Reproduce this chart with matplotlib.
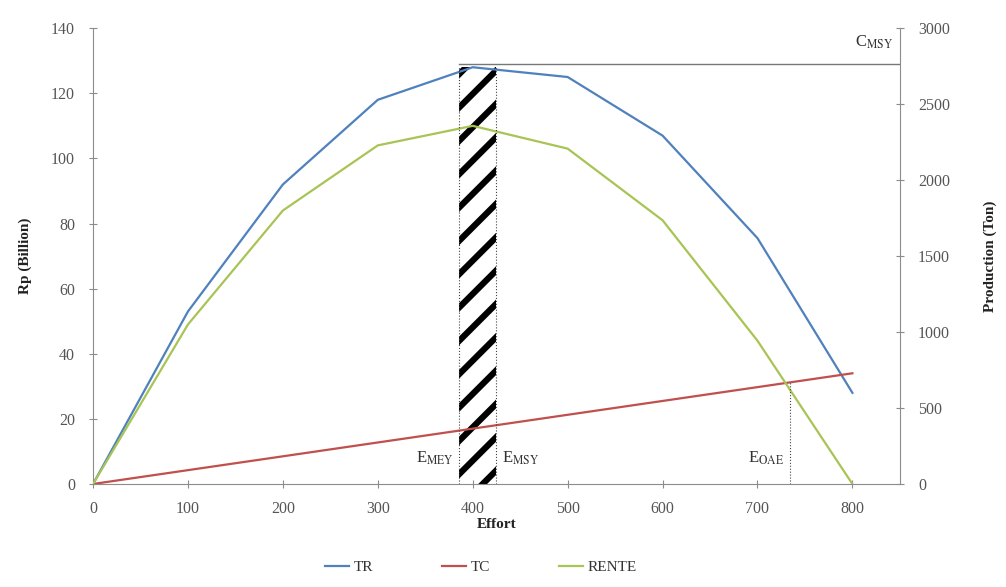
import matplotlib
matplotlib.use("Agg")
import matplotlib.pyplot as plt
import numpy as np

effort = [0, 100, 200, 300, 400, 500, 600, 700, 800]
TR = [0, 53, 92, 118, 128, 125, 107, 75.5, 28]
TC = [0, 4.25, 8.5, 12.75, 17, 21.25, 25.5, 29.75, 34]
RENTE = [0, 49, 84, 104, 110, 103, 81, 44, 0]

E_MEY = 386
E_MSY = 425
E_OAE = 734
C_MSY = 129
band_top = 128
oae_top = 31.2

x_ticks = [0, 100, 200, 300, 400, 500, 600, 700, 800]
y_left_ticks = [0, 20, 40, 60, 80, 100, 120, 140]
y_right_ticks = [0, 500, 1000, 1500, 2000, 2500, 3000]

plt.rcParams['font.family'] = ['Liberation Serif', 'DejaVu Serif']
plt.rcParams['mathtext.fontset'] = 'stix'
plt.rcParams['hatch.linewidth'] = 4.5

fig = plt.figure(figsize=(10.06, 5.87), dpi=100)
ax = fig.add_axes([0.0925, 0.1755, 0.802, 0.7765])
gray = '#8c8c8c'
tcol = '#555555'

c_tr = '#4F81BD'
c_tc = '#C0504D'
c_re = '#A8C455'

ax.plot(effort, TR, color=c_tr, lw=1.6, label='TR', zorder=3)
ax.plot(effort, TC, color=c_tc, lw=1.6, label='TC', zorder=3)
ax.plot(effort, RENTE, color=c_re, lw=1.6, label='RENTE', zorder=3)

# hatched band
ax.fill_between([E_MEY, E_MSY], 0, band_top, facecolor='none', edgecolor='black',
                hatch='/', linewidth=0, zorder=2)
ax.plot([E_MEY, E_MEY], [0, band_top], color='#444444', lw=0.8, ls=':', zorder=4)
ax.plot([E_MSY, E_MSY], [0, band_top], color='#444444', lw=0.8, ls=':', zorder=4)
ax.plot([E_OAE, E_OAE], [0, oae_top], color='#444444', lw=0.8, ls=':', zorder=4)
ax.plot([E_MEY, 850], [C_MSY, C_MSY], color='#777777', lw=1.0, zorder=2)

ax.text(E_MEY - 6, 8, r'E$_{\mathrm{MEY}}$', ha='right', va='center', fontsize=12, color='#333333')
ax.text(E_MSY + 6, 8, r'E$_{\mathrm{MSY}}$', ha='left', va='center', fontsize=12, color='#333333')
ax.text(E_OAE - 6, 8, r'E$_{\mathrm{OAE}}$', ha='right', va='center', fontsize=12, color='#333333')
ax.text(843, 133, r'C$_{\mathrm{MSY}}$', ha='right', va='bottom', fontsize=12, color='#333333')

ax.set_xlim(0, 850)
ax.set_ylim(0, 140)
ax.set_xticks(x_ticks)
ax.set_yticks(y_left_ticks)
ax.spines['top'].set_visible(False)
ax.spines['right'].set_visible(False)
for s in ['left', 'bottom']:
    ax.spines[s].set_color(gray)
ax.tick_params(axis='both', colors=gray, labelcolor=tcol, labelsize=11.5, direction='inout', length=6)
ax.tick_params(axis='y', pad=10)
ax.tick_params(axis='x', pad=9)
ax.set_xlabel('Effort', fontsize=11, fontweight='bold', color='#222222', labelpad=1)
ax.set_ylabel('Rp (Billion)', fontsize=11, fontweight='bold', color='#222222', labelpad=14)

ax2 = ax.twinx()
ax2.set_ylim(0, 3000)
ax2.set_yticks(y_right_ticks)
ax2.spines['top'].set_visible(False)
ax2.spines['left'].set_visible(False)
ax2.spines['bottom'].set_visible(False)
ax2.spines['right'].set_color(gray)
ax2.tick_params(axis='y', colors=gray, labelcolor=tcol, labelsize=11.5, direction='inout', length=6, pad=10)
ax2.set_ylabel('Production (Ton)', fontsize=11, fontweight='bold', color='#222222', labelpad=24)

handles, labels = ax.get_legend_handles_labels()
fig.legend(handles, labels, loc='center', bbox_to_anchor=(0.478, 0.034), ncol=3, frameon=False,
           fontsize=11, handlelength=1.6, columnspacing=4.5, handletextpad=0.3,
           labelcolor='#333333')

fig.savefig('out.png', dpi=100)
